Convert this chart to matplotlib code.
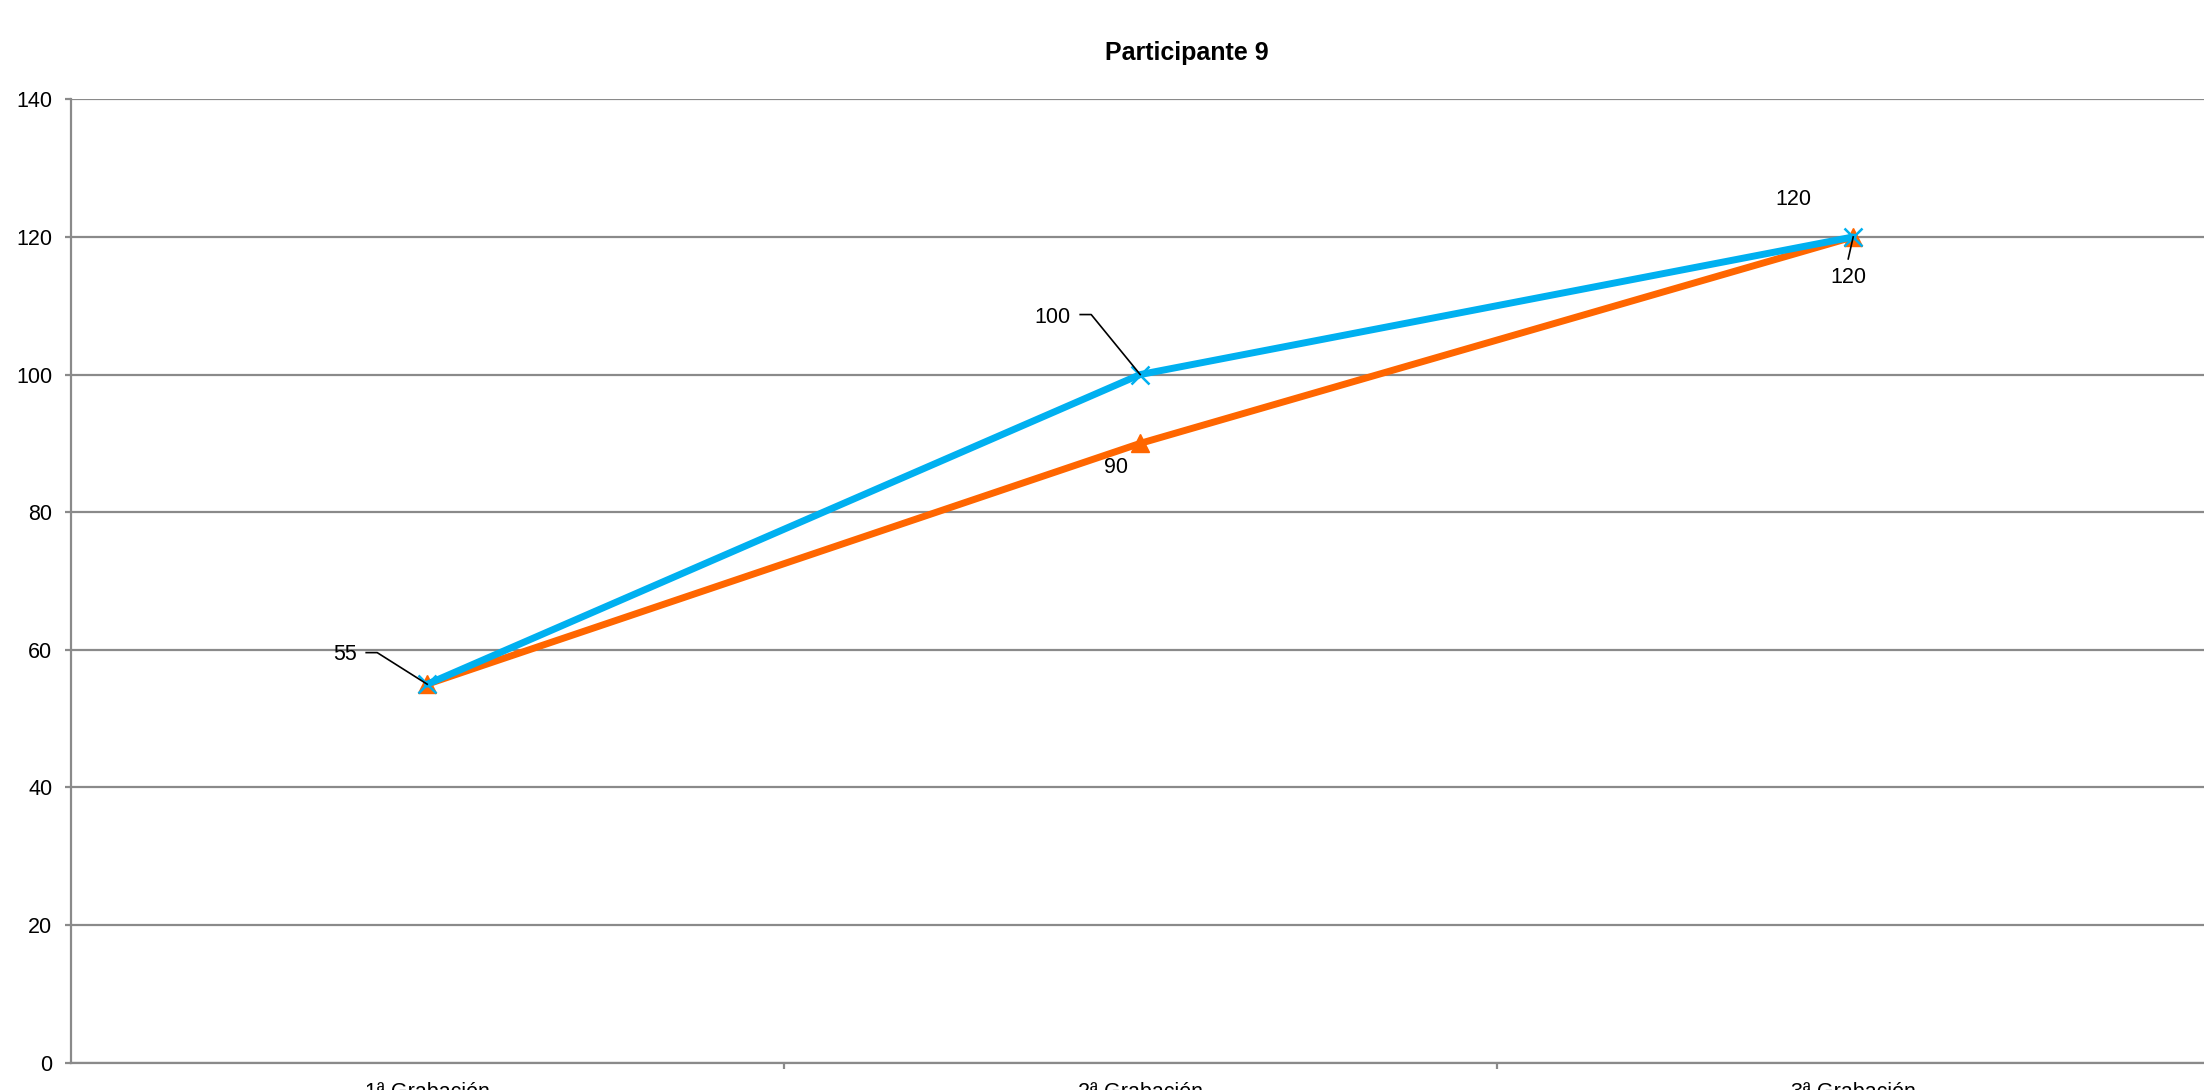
import matplotlib
matplotlib.use("Agg")
import matplotlib.pyplot as plt
from matplotlib.transforms import Affine2D

plt.rcParams['font.family'] = ['Liberation Sans', 'DejaVu Sans']

# Chart data
categories = ["1ª Grabación", "2ª Grabación", "3ª Grabación"]
serie_azul = [55, 100, 120]
serie_naranja = [55, 90, 120]
title = "Participante 9"
yticks = [0, 20, 40, 60, 80, 100, 120, 140]

AZUL = "#00B0F0"
NARANJA = "#FF6600"
GRIS = "#8A8A8A"

W, H = 2204, 1090
fig = plt.figure(figsize=(W / 100, H / 100), dpi=100)
ax = fig.add_axes([70.7 / W, 27.3 / H, (2204 - 70.7) / W, (1062.7 - 99.3) / H])

x = list(range(len(categories)))
ax.plot(x, serie_naranja, color=NARANJA, lw=5, marker="^", markersize=13,
        markeredgecolor=NARANJA, zorder=3, solid_capstyle="round")
ax.plot(x, serie_azul, color=AZUL, lw=5, marker="x", markersize=13,
        markeredgewidth=1.8, zorder=4, solid_capstyle="round")

ax.set_xlim(-0.5, 2.492)
ax.set_ylim(0, 140)
ax.set_yticks(yticks)
ax.set_xticks(x)
ax.set_xticklabels(categories)
ax.set_xticks([0.5, 1.5], minor=True)

ax.grid(axis="y", color=GRIS, lw=1.6, zorder=0)
ax.set_axisbelow(True)
for side in ("top", "right"):
    ax.spines[side].set_visible(False)
for side in ("left", "bottom"):
    ax.spines[side].set_color(GRIS)
    ax.spines[side].set_linewidth(1.6)

ax.tick_params(axis="y", length=4.3, width=1.6, color=GRIS, pad=9, labelsize=15.5)
ax.tick_params(axis="x", which="major", length=0, pad=14, labelsize=15.5)
ax.tick_params(axis="x", which="minor", length=4.3, width=1.6, color=GRIS)

fig.text(1187 / W, 1 - 60 / H, title, ha="center", va="baseline",
         fontsize=18, fontweight="bold")

# Data labels: (series, index, offset in pixels, horizontal alignment, leader vertices)
labels = [
    (serie_azul, 0, (-70, 30), "right", [(-61, 31.6), (-50, 31.6), (0, 0)]),
    (serie_azul, 1, (-70, 57), "right", [(-60, 60), (-49, 60), (0, 0)]),
    (serie_azul, 2, (-60, 37), "center", None),
    (serie_naranja, 1, (-24, -24), "center", None),
    (serie_naranja, 2, (-5, -41), "center", [(-5, -22), (0, 0)]),
]
for serie, i, (dx, dy), ha, leader in labels:
    ax.annotate(str(serie[i]), xy=(i, serie[i]), xytext=(dx, dy),
                textcoords="offset pixels", ha=ha, va="center", fontsize=15.5,
                zorder=6)
    if leader:
        px, py = ax.transData.transform((i, serie[i]))
        lx = [v[0] for v in leader]
        ly = [v[1] for v in leader]
        ax.plot(lx, ly, color="black", lw=1.2,
                transform=Affine2D().translate(px, py), clip_on=False, zorder=5)

fig.savefig("out.png", dpi=100)
